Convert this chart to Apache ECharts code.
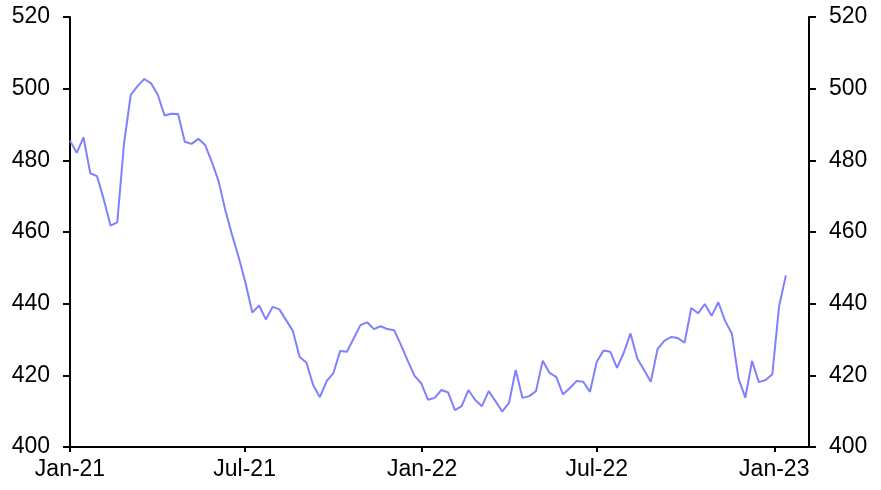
<!DOCTYPE html>
<html>
<head>
<meta charset="utf-8">
<script src="https://cdn.jsdelivr.net/npm/echarts@6/dist/echarts.min.js"></script>
<style>
html,body{margin:0;padding:0;background:#fff;}
#chart{width:881px;height:490px;}
</style>
</head>
<body>
<div id="chart"></div>
<script>
// Weekly observations starting 1 Jan 2021
const startDate = [2021, 0, 1];
const values = [
  485.5, 482.1, 486.4, 476.4, 475.6, 469.1, 461.8, 462.7, 484.7, 498.3,
  500.7, 502.7, 501.5, 498.3, 492.5, 493.0, 492.9, 485.2, 484.6, 486.0,
  484.3, 479.6, 474.2, 466.1, 459.2, 452.8, 445.7, 437.5, 439.5, 435.6,
  439.1, 438.4, 435.4, 432.4, 425.1, 423.6, 417.3, 413.9, 418.4, 420.6,
  426.8, 426.6, 430.3, 434.0, 434.8, 432.9, 433.7, 432.9, 432.6, 428.5,
  424.1, 419.9, 417.8, 413.2, 413.7, 415.9, 415.2, 410.3, 411.4, 415.9,
  413.1, 411.4, 415.6, 412.8, 409.9, 412.3, 421.5, 413.7, 414.2, 415.6,
  424.1, 420.7, 419.6, 414.7, 416.4, 418.4, 418.2, 415.4, 423.8, 426.9,
  426.6, 422.1, 426.3, 431.7, 424.7, 421.5, 418.2, 427.3, 429.6, 430.7,
  430.4, 429.1, 438.8, 437.3, 439.9, 436.6, 440.4, 435.2, 431.7, 419.0,
  413.8, 424.0, 418.1, 418.7, 420.3, 439.3, 447.9
];
const tickDates = [[2021,0,1],[2021,6,1],[2022,0,1],[2022,6,1],[2023,0,1]];
const tickLabels = ['Jan-21','Jul-21','Jan-22','Jul-22','Jan-23'];
const xMinDate = [2021, 0, 1];
const xMaxDate = [2023, 1, 6];
const yMin = 400, yMax = 520, yStep = 20;

const ts = d => Date.UTC(d[0], d[1], d[2]);
const dates = values.map((_, i) => Date.UTC(startDate[0], startDate[1], startDate[2] + 7 * i));
const seriesData = values.map((v, i) => [dates[i], v]);
const tickValues = tickDates.map(ts);

const font = 'Liberation Sans, Arial, sans-serif';
const chart = echarts.init(document.getElementById('chart'), null, {renderer: 'canvas'});

const yAxisCommon = {
  type: 'value', min: yMin, max: yMax, interval: yStep,
  axisLine: {show: true, lineStyle: {color: '#000', width: 2}},
  axisTick: {show: true, inside: false, length: 7, lineStyle: {color: '#000', width: 2}},
  splitLine: {show: false},
  axisLabel: {color: '#000', fontSize: 23, fontFamily: font, margin: 20}
};

chart.setOption({
  animation: false,
  backgroundColor: '#fff',
  grid: {left: 70, right: 72, top: 17, bottom: 43, containLabel: false},
  xAxis: {
    type: 'value',
    min: ts(xMinDate), max: ts(xMaxDate),
    axisLine: {show: true, onZero: false, lineStyle: {color: '#000', width: 2}},
    axisTick: {show: true, inside: false, length: 5, customValues: tickValues, lineStyle: {color: '#000', width: 2}},
    axisLabel: {
      color: '#000', fontSize: 23, fontFamily: font, margin: 11,
      customValues: tickValues,
      formatter: function (v) {
        const i = tickValues.indexOf(v);
        return i >= 0 ? tickLabels[i] : '';
      }
    },
    splitLine: {show: false}
  },
  yAxis: [
    Object.assign({position: 'left'}, yAxisCommon),
    Object.assign({position: 'right'}, yAxisCommon)
  ],
  series: [{
    type: 'line',
    data: seriesData,
    yAxisIndex: 0,
    showSymbol: false,
    lineStyle: {color: '#8080ff', width: 2},
    itemStyle: {color: '#8080ff'}
  }]
});
</script>
</body>
</html>
